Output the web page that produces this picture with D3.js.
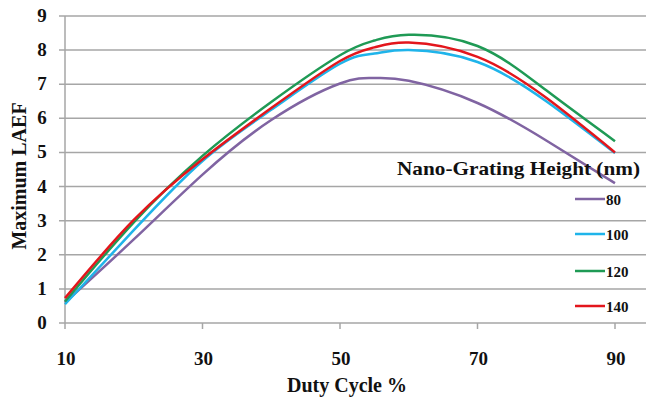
<!DOCTYPE html>
<html>
<head>
<meta charset="utf-8">
<script src="https://cdn.jsdelivr.net/npm/d3@7"></script>
<style>
  body { margin: 0; background: #fff; }
</style>
</head>
<body>
<script>
/* chart values */
var dutyCycle = [10, 20, 30, 40, 50, 55, 60, 70, 80, 90]
var heights = ["80", "100", "120", "140"]
var laef80 = [0.6, 2.45, 4.35, 5.95, 7.02, 7.18, 7.1, 6.45, 5.35, 4.1]
var laef100 = [0.55, 2.72, 4.75, 6.25, 7.6, 7.9, 8.0, 7.65, 6.5, 4.98]
var laef120 = [0.63, 2.95, 4.9, 6.48, 7.85, 8.28, 8.45, 8.12, 6.82, 5.33]
var laef140 = [0.73, 3.02, 4.8, 6.3, 7.68, 8.08, 8.22, 7.8, 6.6, 5.0]
var colors = ["#8064a2", "#1fb4ea", "#1f9a55", "#e3161c"]
var xTicks = [10, 30, 50, 70, 90]
var yTicks = [0, 1, 2, 3, 4, 5, 6, 7, 8, 9]

var width = 649, height = 399
var series = [laef80, laef100, laef120, laef140]
var serif = "'Liberation Serif', 'DejaVu Serif', 'Times New Roman', serif"

var svg = d3.select("body").append("svg")
  .attr("width", width)
  .attr("height", height)
  .attr("font-family", serif)
  .attr("font-weight", "bold")

var x = d3.scaleLinear().domain([10, 90]).range([65, 615])
var y = d3.scaleLinear().domain([0, 9]).range([323, 16])
var plotRight = 646

/* horizontal grid lines */
svg.append("g")
  .selectAll("line")
  .data(yTicks)
  .enter().append("line")
  .attr("x1", 59)
  .attr("x2", plotRight)
  .attr("y1", function(d) { return y(d) })
  .attr("y2", function(d) { return y(d) })
  .attr("stroke", "#a6a6a6")
  .attr("stroke-width", 1.5)

/* y axis line */
svg.append("line")
  .attr("x1", x(10)).attr("x2", x(10))
  .attr("y1", y(9)).attr("y2", y(0))
  .attr("stroke", "#a6a6a6")
  .attr("stroke-width", 1.5)

/* x axis ticks */
svg.append("g")
  .selectAll("line")
  .data(xTicks)
  .enter().append("line")
  .attr("x1", function(d) { return x(d) })
  .attr("x2", function(d) { return x(d) })
  .attr("y1", y(0))
  .attr("y2", y(0) + 6)
  .attr("stroke", "#a6a6a6")
  .attr("stroke-width", 1.5)

/* tick labels */
svg.append("g")
  .selectAll("text")
  .data(yTicks)
  .enter().append("text")
  .attr("x", 42)
  .attr("y", function(d) { return y(d) + 6 })
  .attr("text-anchor", "middle")
  .attr("fill", "#111")
  .style("font-size", "19px")
  .text(function(d) { return d })

svg.append("g")
  .selectAll("text")
  .data(xTicks)
  .enter().append("text")
  .attr("x", function(d) { return x(d) + 1 })
  .attr("y", 365)
  .attr("text-anchor", "middle")
  .attr("fill", "#111")
  .style("font-size", "19px")
  .text(function(d) { return d })

/* axis titles */
svg.append("text")
  .attr("transform", "translate(26,176) rotate(-90)")
  .attr("text-anchor", "middle")
  .attr("fill", "#111")
  .style("font-size", "20px")
  .text("Maximum LAEF")

svg.append("text")
  .attr("x", 347)
  .attr("y", 392)
  .attr("text-anchor", "middle")
  .attr("fill", "#111")
  .style("font-size", "20px")
  .text("Duty Cycle %")

/* the curves */
var line = d3.line()
  .x(function(d, i) { return x(dutyCycle[i]) })
  .y(function(d) { return y(d) })
  .curve(d3.curveNatural)

svg.append("g")
  .selectAll("path")
  .data(series)
  .enter().append("path")
  .attr("d", line)
  .attr("fill", "none")
  .attr("stroke", function(d, i) { return colors[i] })
  .attr("stroke-width", 2.5)

/* legend */
svg.append("text")
  .attr("x", 397)
  .attr("y", 175)
  .attr("textLength", 243)
  .attr("lengthAdjust", "spacingAndGlyphs")
  .attr("fill", "#111")
  .style("font-size", "19px")
  .text("Nano-Grating Height (nm)")

var legendY = [199, 234, 271, 306]
var items = svg.append("g")
  .selectAll("g")
  .data(heights)
  .enter().append("g")
  .attr("transform", function(d, i) { return "translate(0," + legendY[i] + ")" })

items.append("line")
  .attr("x1", 575).attr("x2", 605)
  .attr("y1", 0).attr("y2", 0)
  .attr("stroke", function(d, i) { return colors[i] })
  .attr("stroke-width", 2.5)

items.append("text")
  .attr("x", 606)
  .attr("y", 5.5)
  .attr("fill", "#111")
  .style("font-size", "15px")
  .text(function(d) { return d })
</script>
</body>
</html>
